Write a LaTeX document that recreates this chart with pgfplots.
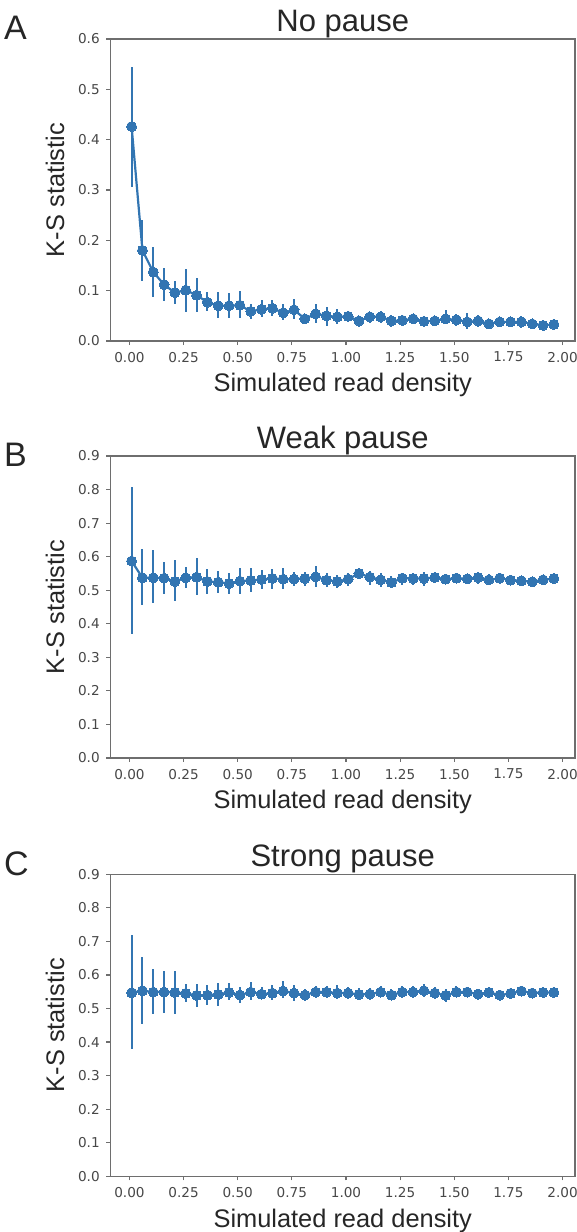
\documentclass[border=0pt]{standalone}
\usepackage{fontspec}
\setmainfont{Liberation Sans}
\newfontfamily\tickfont{DejaVu Sans}
\usepackage{pgfplots}
\usepackage{pgfplotstable}
\pgfplotsset{compat=1.18}
\definecolor{ptblue}{RGB}{50,117,178}
\definecolor{spine}{RGB}{110,110,110}
\definecolor{txt}{RGB}{38,38,38}

% columns: density, KS statistic, CI low, CI high
\pgfplotstableread{
x y lo hi
0.01 0.426 0.305 0.545
0.06 0.180 0.119 0.241
0.11 0.137 0.087 0.187
0.16 0.112 0.079 0.145
0.21 0.096 0.074 0.119
0.26 0.101 0.057 0.144
0.31 0.091 0.057 0.125
0.36 0.077 0.060 0.097
0.41 0.070 0.045 0.097
0.46 0.070 0.045 0.095
0.51 0.071 0.045 0.099
0.56 0.059 0.043 0.074
0.61 0.063 0.048 0.081
0.66 0.065 0.049 0.082
0.71 0.056 0.041 0.074
0.76 0.062 0.044 0.083
0.81 0.044 0.033 0.054
0.86 0.054 0.036 0.074
0.91 0.050 0.030 0.068
0.96 0.048 0.033 0.063
1.01 0.049 0.038 0.058
1.06 0.040 0.028 0.049
1.11 0.048 0.036 0.056
1.16 0.048 0.036 0.059
1.21 0.040 0.028 0.052
1.26 0.041 0.030 0.052
1.31 0.044 0.036 0.053
1.36 0.039 0.030 0.048
1.41 0.040 0.032 0.048
1.46 0.044 0.033 0.061
1.51 0.042 0.030 0.054
1.56 0.038 0.023 0.056
1.61 0.040 0.028 0.052
1.66 0.034 0.025 0.042
1.71 0.038 0.028 0.046
1.76 0.038 0.028 0.048
1.81 0.038 0.026 0.049
1.86 0.034 0.026 0.044
1.91 0.031 0.025 0.038
1.96 0.033 0.023 0.042
}\nopause

\pgfplotstableread{
x y lo hi
0.01 0.587 0.369 0.807
0.06 0.537 0.455 0.624
0.11 0.537 0.461 0.620
0.16 0.536 0.490 0.584
0.21 0.526 0.468 0.589
0.26 0.537 0.506 0.570
0.31 0.539 0.486 0.597
0.36 0.526 0.490 0.564
0.41 0.524 0.493 0.557
0.46 0.520 0.490 0.550
0.51 0.527 0.490 0.567
0.56 0.529 0.495 0.567
0.61 0.532 0.503 0.560
0.66 0.535 0.503 0.564
0.71 0.533 0.503 0.565
0.76 0.533 0.513 0.554
0.81 0.535 0.513 0.555
0.86 0.540 0.510 0.572
0.91 0.530 0.510 0.552
0.96 0.526 0.508 0.546
1.01 0.533 0.513 0.550
1.06 0.550 0.538 0.562
1.11 0.539 0.516 0.557
1.16 0.531 0.511 0.550
1.21 0.523 0.506 0.541
1.26 0.536 0.516 0.550
1.31 0.535 0.516 0.550
1.36 0.535 0.513 0.554
1.41 0.538 0.523 0.550
1.46 0.533 0.520 0.548
1.51 0.536 0.523 0.548
1.56 0.534 0.521 0.545
1.61 0.538 0.520 0.554
1.66 0.531 0.516 0.548
1.71 0.536 0.518 0.552
1.76 0.530 0.518 0.545
1.81 0.528 0.516 0.541
1.86 0.525 0.513 0.538
1.91 0.531 0.521 0.541
1.96 0.535 0.523 0.548
}\weakpause

\pgfplotstableread{
x y lo hi
0.01 0.547 0.378 0.718
0.06 0.553 0.455 0.655
0.11 0.549 0.485 0.617
0.16 0.549 0.487 0.613
0.21 0.548 0.484 0.611
0.26 0.545 0.518 0.573
0.31 0.539 0.505 0.573
0.36 0.540 0.510 0.571
0.41 0.542 0.507 0.577
0.46 0.548 0.525 0.576
0.51 0.540 0.515 0.564
0.56 0.549 0.525 0.579
0.61 0.543 0.528 0.564
0.66 0.546 0.525 0.571
0.71 0.552 0.530 0.581
0.76 0.546 0.522 0.570
0.81 0.540 0.522 0.558
0.86 0.549 0.532 0.566
0.91 0.549 0.530 0.566
0.96 0.546 0.528 0.570
1.01 0.546 0.528 0.565
1.06 0.542 0.527 0.560
1.11 0.543 0.526 0.562
1.16 0.549 0.533 0.566
1.21 0.540 0.525 0.558
1.26 0.549 0.530 0.566
1.31 0.549 0.530 0.568
1.36 0.553 0.535 0.573
1.41 0.546 0.528 0.565
1.46 0.539 0.520 0.557
1.51 0.549 0.533 0.566
1.56 0.549 0.533 0.565
1.61 0.543 0.528 0.558
1.66 0.548 0.533 0.562
1.71 0.540 0.527 0.553
1.76 0.545 0.530 0.560
1.81 0.552 0.540 0.564
1.86 0.546 0.530 0.562
1.91 0.548 0.536 0.560
1.96 0.548 0.536 0.560
}\strongpause

\pgfplotsset{
  panel/.style={
    scale only axis, width=232.25pt, height=151pt,
    anchor=north west,
    xmin=-0.0875, xmax=2.0575, ymin=0,
    xtick={0,0.25,0.5,0.75,1,1.25,1.5,1.75,2},
    xticklabels={0.00,0.25,0.50,0.75,1.00,1.25,1.50,1.75,2.00},
    yticklabel style={/pgf/number format/fixed, /pgf/number format/fixed zerofill, /pgf/number format/precision=1},
    /pgf/number format/assume math mode=true,
    tick align=outside, major tick length=2pt,
    xtick pos=bottom, ytick pos=left,
    axis line style={spine, line width=0.6pt},
    tick style={spine, line width=0.6pt},
    ticklabel style={font=\tickfont\fontsize{6.8pt}{8pt}\selectfont, text=txt!85},
    xticklabel style={inner sep=0pt, yshift=-3.3pt},
    yticklabel style={inner sep=0pt, xshift=-3.2pt},
    xlabel={Simulated read density}, ylabel={K-S statistic},
    every axis x label/.style={at={(axis description cs:0.5,-0.1679)}, anchor=base,
      font=\fontsize{12.7pt}{15pt}\selectfont, text=txt, inner sep=0pt},
    every axis y label/.style={at={(axis description cs:-0.1001,0.5)}, rotate=90, anchor=base,
      font=\fontsize{12.7pt}{15pt}\selectfont, text=txt, inner sep=0pt},
    title style={font=\fontsize{15.5pt}{18pt}\selectfont, text=txt, at={(axis description cs:0.5,1)}, anchor=base, yshift=-2pt, inner sep=0pt},
    clip=false,
  },
  ksplot/.style={
    ptblue, line width=1.1pt, mark=*, mark size=2.5pt,
    mark options={fill=ptblue, draw=ptblue, line width=0pt},
    error bars/.cd, y dir=both, y explicit, error mark=none,
    error bar style={ptblue, line width=1pt},
  },
}

\begin{document}
\begin{tikzpicture}
\useasboundingbox (0,0) rectangle (288.5pt,-616pt);

\begin{axis}[panel, at={(55.25pt,-19.5pt)}, ymax=0.6, ytick={0,0.1,...,0.6}, title={No pause}]
  \addplot[ksplot] table[x=x, y=y, y error plus expr=\thisrow{hi}-\thisrow{y}, y error minus expr=\thisrow{y}-\thisrow{lo}] {\nopause};
\end{axis}

\begin{axis}[panel, at={(55.25pt,-228pt)}, ymax=0.9, ytick={0,0.1,...,0.9}, title={Weak pause}]
  \addplot[ksplot] table[x=x, y=y, y error plus expr=\thisrow{hi}-\thisrow{y}, y error minus expr=\thisrow{y}-\thisrow{lo}] {\weakpause};
\end{axis}

\begin{axis}[panel, at={(55.25pt,-437.15pt)}, ymax=0.9, ytick={0,0.1,...,0.9}, title={Strong pause}]
  \addplot[ksplot] table[x=x, y=y, y error plus expr=\thisrow{hi}-\thisrow{y}, y error minus expr=\thisrow{y}-\thisrow{lo}] {\strongpause};
\end{axis}

\node[anchor=base west, inner sep=0pt, font=\fontsize{17pt}{20pt}\selectfont, text=txt] at (1.85pt,-19.5pt) {A};
\node[anchor=base west, inner sep=0pt, font=\fontsize{17pt}{20pt}\selectfont, text=txt] at (1.85pt,-233.3pt) {B};
\node[anchor=base west, inner sep=0pt, font=\fontsize{17pt}{20pt}\selectfont, text=txt] at (1.85pt,-437.5pt) {C};
\end{tikzpicture}
\end{document}
